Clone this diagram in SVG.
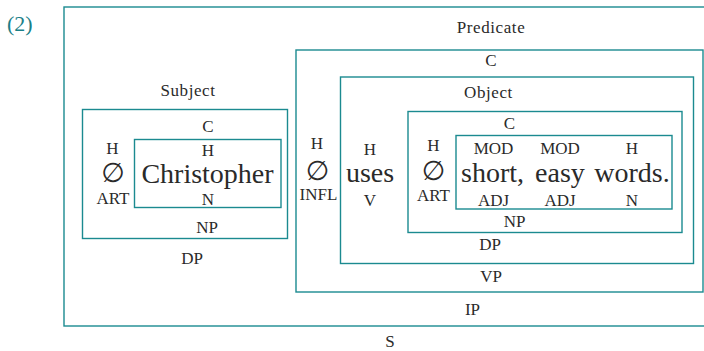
<svg xmlns="http://www.w3.org/2000/svg" width="704" height="351" viewBox="0 0 704 351">
<style>
.box{fill:none;stroke:#1b8a90;stroke-width:1.4}
text{font-family:"Liberation Serif","DejaVu Serif",serif;fill:#2a2a2a;text-anchor:middle}
.s{font-size:17px}
.w{font-size:17px;letter-spacing:0.6px}
.b{font-size:28px}
.e{font-size:27px;font-family:"DejaVu Sans","Liberation Serif",serif}
.num{font-size:22px;fill:#1b8088;text-anchor:start}
</style>
<rect width="704" height="351" fill="#ffffff"/>
<text class="num" x="7" y="31">(2)</text>

<g id="S">
<rect class="box" x="64" y="7" width="645" height="319"/>
<text class="s" x="390" y="347">S</text>
</g>

<g id="Subject-DP">
<rect class="box" x="82.5" y="109.5" width="205" height="129"/>
<text class="w" x="188" y="96">Subject</text>
<text class="s" x="208" y="131.5">C</text>
<text class="s" x="112.5" y="153.5">H</text>
<text class="e" x="113" y="182">∅</text>
<text class="s" x="113" y="203.5">ART</text>
<text class="s" x="192" y="263.5">DP</text>
</g>

<g id="Subject-NP">
<rect class="box" x="134.5" y="139.5" width="146.5" height="68"/>
<text class="s" x="208" y="156">H</text>
<text class="b" x="207.5" y="182.5">Christopher</text>
<text class="s" x="208" y="205">N</text>
<text class="s" x="207" y="233">NP</text>
</g>

<g id="Predicate-IP">
<rect class="box" x="296" y="50" width="407" height="242"/>
<text class="w" x="491" y="33">Predicate</text>
<text class="s" x="491" y="66">C</text>
<text class="s" x="317" y="149">H</text>
<text class="e" x="317.5" y="180">∅</text>
<text class="s" x="318.5" y="199.5">INFL</text>
<text class="s" x="472.5" y="314.5">IP</text>
</g>

<g id="VP">
<rect class="box" x="340.5" y="77" width="353" height="186.5"/>
<text class="w" x="488.5" y="98">Object</text>
<text class="s" x="370" y="154.5">H</text>
<text class="b" x="370" y="182">uses</text>
<text class="s" x="370" y="206">V</text>
<text class="s" x="491" y="281.5">VP</text>
</g>

<g id="Object-DP">
<rect class="box" x="408" y="111.5" width="274" height="121"/>
<text class="s" x="509.5" y="128.5">C</text>
<text class="s" x="433.5" y="151">H</text>
<text class="e" x="433.5" y="180">∅</text>
<text class="s" x="433.5" y="201">ART</text>
<text class="s" x="490" y="250">DP</text>
</g>

<g id="Object-NP">
<rect class="box" x="456" y="135.5" width="216" height="73.5"/>
<text class="s" x="493.5" y="154">MOD</text>
<text class="s" x="560" y="154">MOD</text>
<text class="s" x="632" y="154">H</text>
<text class="b" x="492.5" y="182">short,</text>
<text class="b" x="560" y="182">easy</text>
<text class="b" x="632" y="182">words.</text>
<text class="s" x="493.5" y="206">ADJ</text>
<text class="s" x="560" y="206">ADJ</text>
<text class="s" x="632" y="206">N</text>
<text class="s" x="514.5" y="227">NP</text>
</g>
</svg>
